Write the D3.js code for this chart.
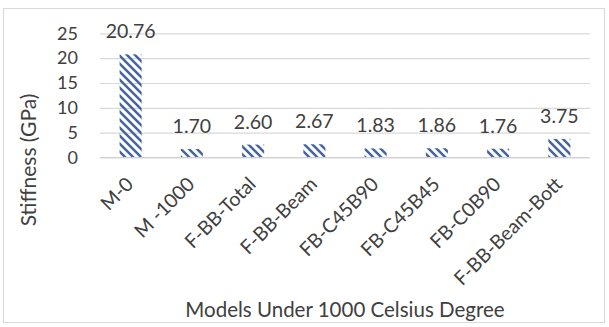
<!DOCTYPE html>
<html>
<head>
<meta charset="utf-8">
<script src="https://cdn.jsdelivr.net/npm/d3@7"></script>
<style>
  html, body { margin: 0; padding: 0; background: #fff; }
  svg { display: block; }
  text { font-family: Lato, "Open Sans", sans-serif; fill: #404040; }
</style>
</head>
<body>
<svg id="chart" width="609" height="327"></svg>
<script>
const categories = ["M-0", "M -1000", "F-BB-Total", "F-BB-Beam", "FB-C45B90", "FB-C45B45", "FB-C0B90", "F-BB-Beam-Bott"];
const stiffness = [20.76, 1.70, 2.60, 2.67, 1.83, 1.86, 1.76, 3.75];
const yTicks = [0, 5, 10, 15, 20, 25];
const yTitle = "Stiffness (GPa)";
const xTitle = "Models Under 1000 Celsius Degree";

const svg = d3.select("#chart");
const plot = { left: 100, right: 590, top: 33.3, bottom: 157.5 };

// chart border
svg.append("rect").attr("x", 3.5).attr("y", 8.5).attr("width", 601).attr("height", 314)
  .attr("fill", "#fff").attr("stroke", "#d9d9d9").attr("stroke-width", 1);

// hatch pattern (wide downward diagonal)
const defs = svg.append("defs");
const pat = defs.append("pattern").attr("id", "hatch")
  .attr("patternUnits", "userSpaceOnUse").attr("width", 8).attr("height", 8);
pat.append("path").attr("d", "M-2,-2 L10,10 M-2,6 L2,10 M6,-2 L10,2")
  .attr("stroke", "#46659e").attr("stroke-width", 2.5).attr("stroke-linecap", "square");

const x = d3.scaleBand().domain(categories).range([plot.left, plot.right]).paddingInner(0.64).paddingOuter(0.32);
const y = d3.scaleLinear().domain([0, 25]).range([plot.bottom, plot.top]);

// gridlines + y tick labels
const yAxis = d3.axisLeft(y).tickValues(yTicks).tickSize(-(plot.right - plot.left)).tickPadding(22);
const gy = svg.append("g").attr("transform", `translate(${plot.left},0)`).call(yAxis);
gy.select(".domain").remove();
gy.selectAll(".tick line").attr("stroke", "#d9d9d9").attr("stroke-width", 1.2);
gy.selectAll(".tick text").attr("font-size", 18).attr("fill", "#404040")
  .attr("font-family", "Lato, sans-serif");

// bars
svg.append("g").selectAll("rect").data(stiffness).join("rect")
  .attr("x", (d, i) => x(categories[i]))
  .attr("width", x.bandwidth())
  .attr("y", d => y(d))
  .attr("height", d => y(0) - y(d))
  .attr("fill", "url(#hatch)");

// x axis line
svg.append("line").attr("x1", plot.left).attr("x2", plot.right)
  .attr("y1", y(0)).attr("y2", y(0)).attr("stroke", "#d0d0d0").attr("stroke-width", 1.2);

// value labels
svg.append("g").selectAll("text").data(stiffness).join("text")
  .attr("x", (d, i) => x(categories[i]) + x.bandwidth() / 2)
  .attr("y", d => y(d) - 16)
  .attr("text-anchor", "middle")
  .attr("font-size", 19.5)
  .text(d => d.toFixed(2));

// category labels
svg.append("g").selectAll("text").data(categories).join("text")
  .attr("transform", d => `translate(${x(d) + x.bandwidth() / 2 + 4},${plot.bottom + 28}) rotate(-45)`)
  .attr("text-anchor", "end")
  .attr("font-size", 19.5)
  .text(d => d);

// axis titles
svg.append("text").attr("transform", `translate(36,160) rotate(-90)`)
  .attr("text-anchor", "middle").attr("font-size", 21).text(yTitle);
svg.append("text").attr("x", 345).attr("y", 317)
  .attr("text-anchor", "middle").attr("font-size", 20.5).text(xTitle);
</script>
</body>
</html>
